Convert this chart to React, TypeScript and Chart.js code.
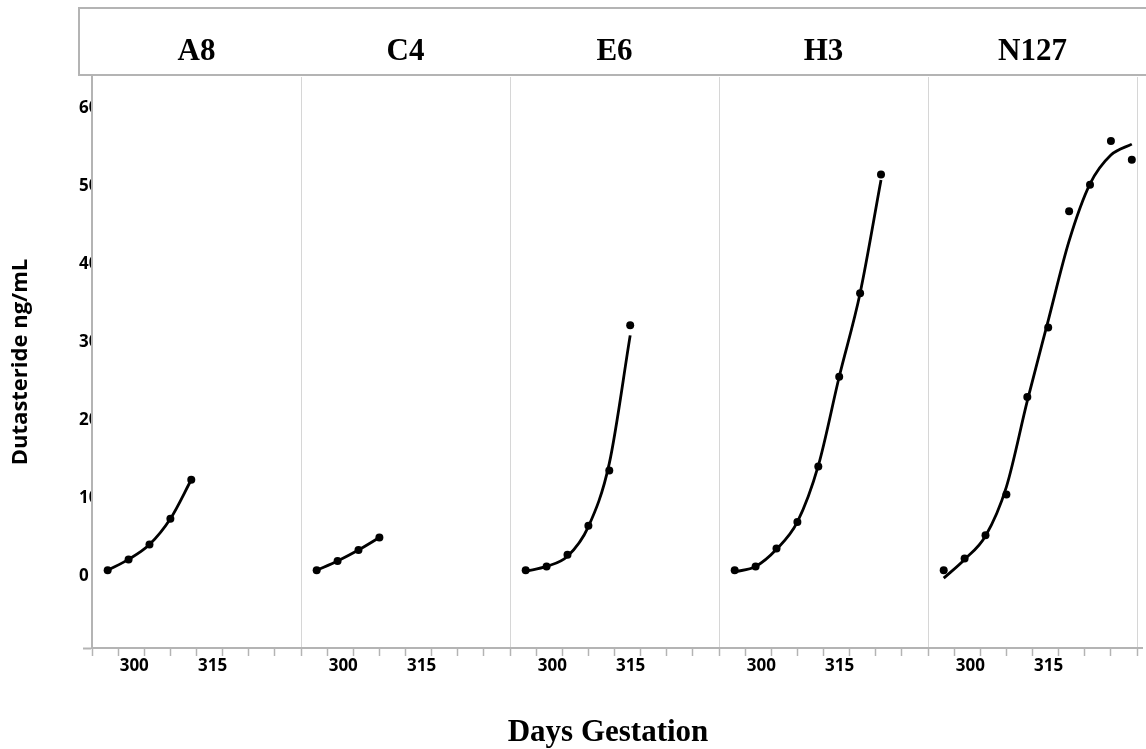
import React, { useEffect, useRef } from "react";
import { Chart, registerables } from "chart.js";

Chart.register(...registerables);

// ---- data ----
const PANELS = ["A8", "C4", "E6", "H3", "N127"];
const DAYS = [293, 297, 301, 305, 309, 313, 317, 321, 325, 329];

const A8_OBS = [0.8, 2.2, 4.1, 7.4, 12.4];
const C4_OBS = [0.8, 2.0, 3.4, 5.0];
const E6_OBS = [0.8, 1.3, 2.8, 6.5, 13.6, 32.2];
const H3_OBS = [0.8, 1.3, 3.6, 7.0, 14.1, 25.6, 36.3, 51.5];
const N127_OBS = [0.8, 2.3, 5.3, 10.5, 23.0, 31.9, 46.8, 50.2, 55.8, 53.4];

const A8_FIT = [0.8, 2.2, 4.1, 7.4, 12.4];
const C4_FIT = [0.8, 2.0, 3.4, 5.0];
const E6_FIT = [0.7, 1.3, 2.6, 6.4, 14.5, 30.9];
const H3_FIT = [0.6, 1.3, 3.5, 7.0, 14.2, 25.6, 36.3, 50.8];
const N127_FIT = [-0.2, 2.2, 5.2, 11.5, 22.5, 32.8, 43.0, 50.3, 54.0, 55.4];

const OBS = [A8_OBS, C4_OBS, E6_OBS, H3_OBS, N127_OBS];
const FITS = [A8_FIT, C4_FIT, E6_FIT, H3_FIT, N127_FIT];

const DAY_START = 290;
const PANEL_SPAN = 40;
const X_TICK_STEP = 5;
const X_TICK_LABELS = [300, 315];
const Y_TICK_LABELS = [0, 10, 20, 30, 40, 50, 60];
const Y_MIN = -9.15;
const Y_MAX = 64.0;
const X_MAX = 200.95;

const X_TITLE = "Days Gestation";
const Y_TITLE = "Dutasteride ng/mL";

const W = 1146;
const H = 749;

const toX = (p: number, day: number) => p * PANEL_SPAN + (day - DAY_START);

const overlay = {
  id: "overlay",
  afterDraw(chart: any) {
    const { ctx } = chart;
    const xs = chart.scales.x;
    const ys = chart.scales.y;
    ctx.save();
    // header strip
    ctx.strokeStyle = "#b4b4b4";
    ctx.lineWidth = 2;
    ctx.strokeRect(79, 8, W - 79 + 10, 67);
    ctx.fillStyle = "#000";
    ctx.font = 'bold 31px "Liberation Serif"';
    ctx.textAlign = "center";
    ctx.textBaseline = "alphabetic";
    PANELS.forEach((name, p) => {
      ctx.fillText(name, xs.getPixelForValue(p * PANEL_SPAN + PANEL_SPAN / 2), 60);
    });
    ctx.restore();

    // y tick labels, clipped at the axis line
    ctx.save();
    ctx.beginPath();
    ctx.rect(0, 0, 91, H);
    ctx.clip();
    ctx.fillStyle = "#000";
    ctx.font = 'bold 17px "Open Sans"';
    ctx.textAlign = "left";
    ctx.textBaseline = "middle";
    Y_TICK_LABELS.forEach((v) => {
      ctx.fillText(String(v), 79, ys.getPixelForValue(v));
    });
    ctx.restore();

    // axis titles
    ctx.save();
    ctx.fillStyle = "#000";
    ctx.font = 'bold 31px "Liberation Serif"';
    ctx.textAlign = "center";
    ctx.textBaseline = "alphabetic";
    ctx.fillText(X_TITLE, 608, 741);
    ctx.translate(21, 362);
    ctx.rotate(-Math.PI / 2);
    ctx.font = 'bold 22px "Open Sans"';
    ctx.textBaseline = "middle";
    ctx.fillText(Y_TITLE, 0, 0);
    ctx.restore();
  },
};

export default function App() {
  const ref = useRef<HTMLCanvasElement | null>(null);

  useEffect(() => {
    const canvas = ref.current;
    if (!canvas) return;
    const datasets: any[] = [];
    PANELS.forEach((name, p) => {
      datasets.push({
        type: "line",
        label: name + " fit",
        data: FITS[p].map((v, i) => ({ x: toX(p, DAYS[i]), y: v })),
        borderColor: "#000",
        borderWidth: 2.8,
        pointRadius: 0,
        fill: false,
        cubicInterpolationMode: "monotone",
        order: 2,
      });
      datasets.push({
        type: "scatter",
        label: name,
        data: OBS[p].map((v, i) => ({ x: toX(p, DAYS[i]), y: v })),
        backgroundColor: "#000",
        borderColor: "#000",
        borderWidth: 0,
        pointRadius: 4,
        showLine: false,
        order: 1,
      });
    });

    const xTicks: number[] = [];
    for (let v = 0; v <= PANEL_SPAN * PANELS.length; v += X_TICK_STEP) xTicks.push(v);

    const chart = new Chart(canvas, {
      type: "scatter",
      data: { datasets },
      plugins: [overlay],
      options: {
        responsive: false,
        animation: false,
        layout: { padding: { left: 79, top: 77, right: 0, bottom: 0 } },
        plugins: {
          legend: { display: false },
          tooltip: { enabled: false },
          title: { display: false },
        },
        scales: {
          x: {
            type: "linear",
            min: 0,
            max: X_MAX,
            afterBuildTicks: (s: any) => {
              s.ticks = xTicks.map((v) => ({ value: v }));
            },
            afterFit: (s: any) => {
              s.height = 101;
            },
            grid: {
              color: (c: any) =>
                c.tick && c.tick.value > 0 && c.tick.value % PANEL_SPAN === 0
                  ? "#d6d6d6"
                  : "rgba(0,0,0,0)",
              lineWidth: 1,
              tickColor: "#b4b4b4",
              tickWidth: 1.5,
              tickLength: 8,
              drawTicks: true,
            },
            border: { display: true, color: "#b4b4b4", width: 2 },
            ticks: {
              autoSkip: false,
              maxRotation: 0,
              minRotation: 0,
              labelOffset: -10,
              padding: 0,
              color: "#000",
              font: { family: '"Open Sans"', size: 17, weight: "bold" },
              callback: (v: any) => {
                const d = (Number(v) % PANEL_SPAN) + DAY_START;
                return X_TICK_LABELS.includes(d) ? String(d) : "";
              },
            },
          },
          y: {
            type: "linear",
            min: Y_MIN,
            max: Y_MAX,
            afterFit: (s: any) => {
              s.width = 13;
            },
            ticks: { display: false, stepSize: 10 },
            grid: {
              color: "rgba(0,0,0,0)",
              tickLength: 9,
              tickWidth: 2,
              tickColor: (c: any) =>
                c.tick && Math.abs(c.tick.value - Y_MIN) < 1e-6 ? "#b4b4b4" : "rgba(0,0,0,0)",
              drawTicks: true,
            },
            border: { display: true, color: "#b4b4b4", width: 2 },
          },
        },
      } as any,
    });
    return () => chart.destroy();
  }, []);

  return (
    <div
      style={{
        position: "fixed",
        left: 0,
        top: 0,
        width: W,
        height: H,
        background: "#fff",
      }}
    >
      <canvas ref={ref} width={W} height={H} style={{ display: "block" }} />
    </div>
  );
}
